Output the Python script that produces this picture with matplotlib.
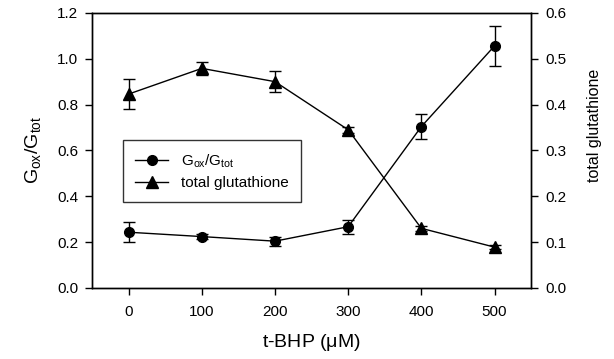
import matplotlib.pyplot as plt
from matplotlib.lines import Line2D

plt.rcParams['font.family'] = ['Liberation Sans', 'DejaVu Sans']
plt.rcParams['mathtext.default'] = 'regular'

# t-BHP concentrations (uM)
tbhp = [0, 100, 200, 300, 400, 500]

# oxidised / total glutathione ratio (left axis)
ratio = [0.243, 0.224, 0.204, 0.267, 0.704, 1.056]
ratio_err = [0.043, 0.010, 0.020, 0.030, 0.053, 0.087]

# total glutathione (right axis)
total = [0.423, 0.479, 0.450, 0.345, 0.130, 0.089]
total_err = [0.032, 0.014, 0.023, 0.006, 0.005, 0.004]

fig = plt.figure(figsize=(6.14, 3.59), dpi=100)
ax = fig.add_axes([0.150, 0.198, 0.715, 0.766])
ax2 = ax.twinx()

ax.errorbar(tbhp, ratio, yerr=ratio_err, color='black', marker='o', markersize=7,
            linewidth=1, elinewidth=1, capsize=4, capthick=1)
ax2.errorbar(tbhp, total, yerr=total_err, color='black', marker='^', markersize=8,
             linewidth=1, elinewidth=1, capsize=4, capthick=1)

ax.set_xlim(-50, 550)
ax.set_ylim(0, 1.2)
ax2.set_ylim(0, 0.6)
ax.set_xticks(tbhp)
ax.set_yticks([0.0, 0.2, 0.4, 0.6, 0.8, 1.0, 1.2])
ax2.set_yticks([0.0, 0.1, 0.2, 0.3, 0.4, 0.5, 0.6])
ax.yaxis.set_major_formatter(plt.FormatStrFormatter('%.1f'))
ax2.yaxis.set_major_formatter(plt.FormatStrFormatter('%.1f'))

for a in (ax, ax2):
    a.tick_params(direction='out', length=5, width=1, labelsize=11, pad=5)
    for s in a.spines.values():
        s.set_linewidth(1)
ax.tick_params(axis='x', pad=7)

ax.set_xlabel(r't-BHP ($\mu$M)', fontsize=14, labelpad=10)
ax.set_ylabel(r'G$_{ox}$/G$_{tot}$', fontsize=14, labelpad=10)
ax2.set_ylabel('total glutathione', fontsize=11.5)
ax2.yaxis.set_label_coords(1.128, 0.59)

# legend entries: line with marker only, no error bars
h1 = Line2D([], [], color='black', marker='o', markersize=7, linewidth=1)
h2 = Line2D([], [], color='black', marker='^', markersize=8, linewidth=1)
ax.legend([h1, h2], [r'G$_{ox}$/G$_{tot}$', 'total glutathione'], loc='upper left',
          bbox_to_anchor=(0.052, 0.565), fontsize=11, frameon=True, fancybox=False,
          edgecolor='black', handlelength=2.2, borderpad=0.8, labelspacing=0.4)

fig.savefig('out.png', dpi=100)
